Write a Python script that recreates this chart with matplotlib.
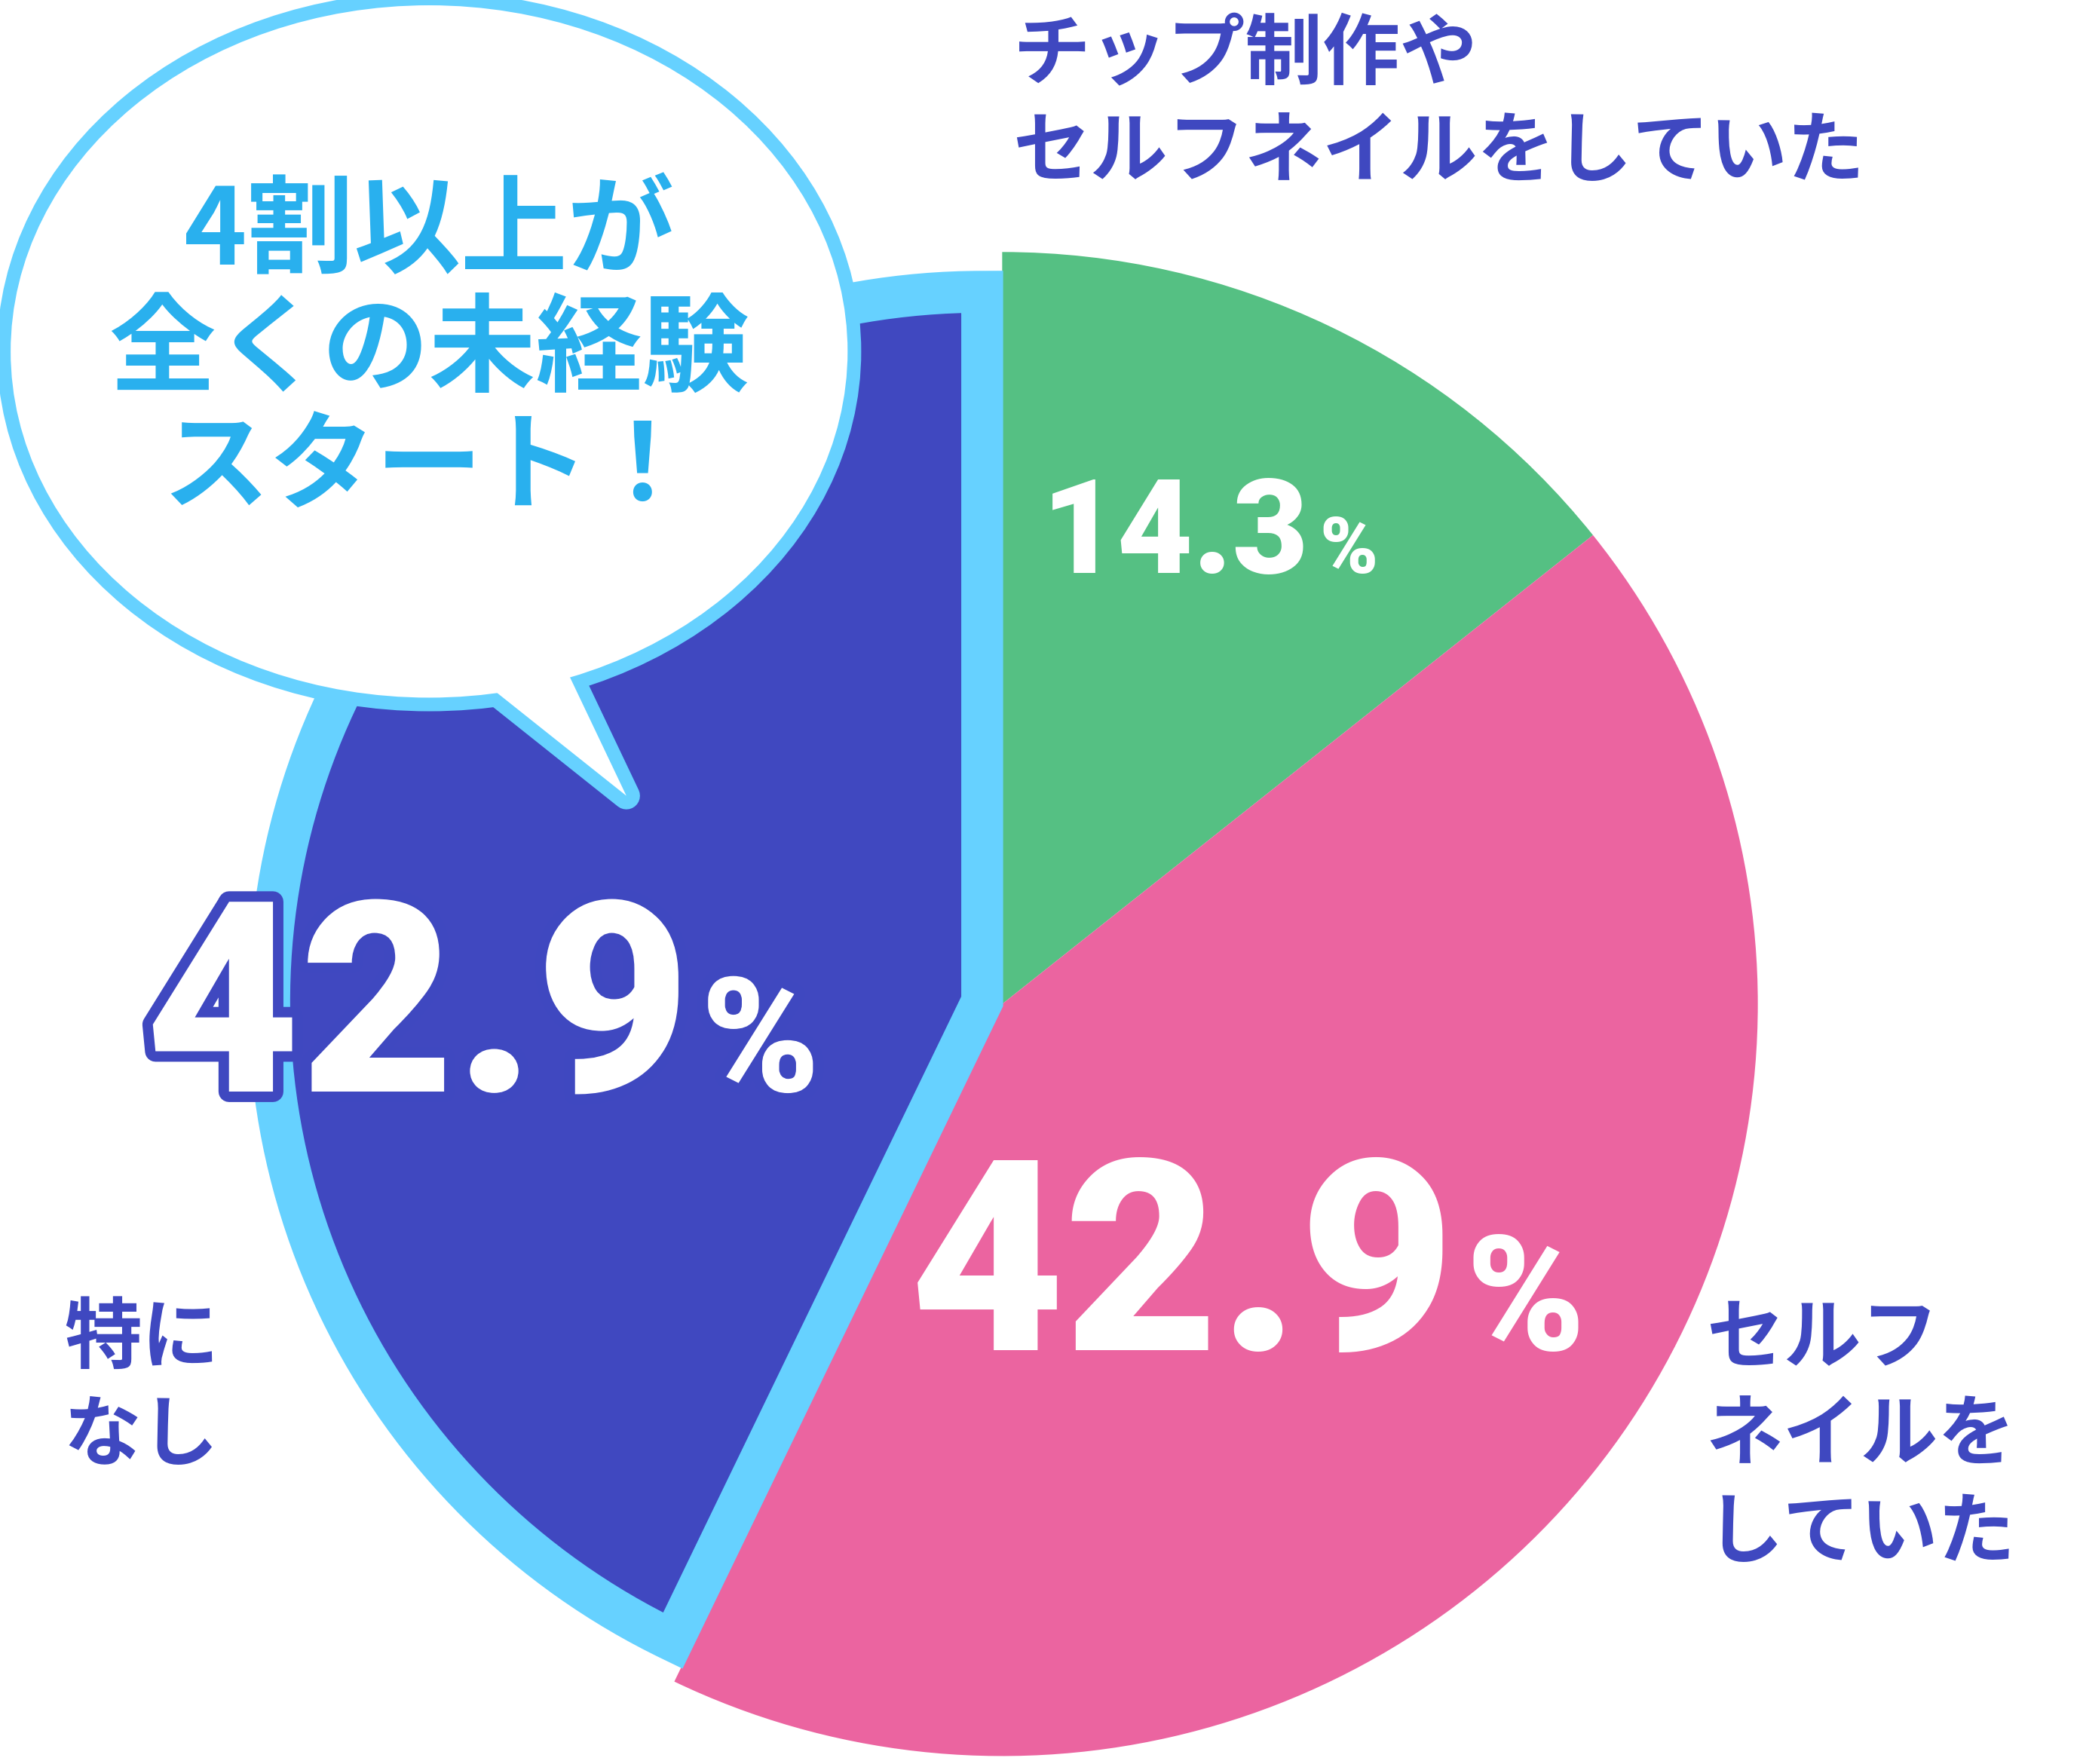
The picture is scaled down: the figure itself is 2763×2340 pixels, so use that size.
import matplotlib
matplotlib.use("Agg")
import matplotlib.pyplot as plt
from matplotlib.patches import Ellipse, Polygon
import matplotlib.patheffects as pe

categories = ["チップ制作や\nセルフネイルをしていた", "セルフ\nネイルを\nしていた", "特に\nなし"]
values = [14.3, 42.9, 42.9]
pct_labels = ["14.3", "42.9", "42.9"]
colors = ["#55C083", "#EB64A0", "#4048C0"]
LB = "#66D1FF"
DB = "#3F48C0"
JP = ["Noto Sans CJK JP", "DejaVu Sans"]

fig = plt.figure(figsize=(27.63, 23.40), dpi=100)
ax = fig.add_axes([0, 0, 1, 1])

H = 1330
w1, _ = ax.pie(values, colors=colors, startangle=90, counterclock=False,
               center=(752, H - 757), radius=567, frame=True)
w1[2].set_visible(False)
w2, _ = ax.pie(values, colors=colors, startangle=90, counterclock=False,
               center=(737, H - 755), radius=535, frame=True,
               wedgeprops=dict(edgecolor=LB, linewidth=40, joinstyle="miter"))
w2[0].set_visible(False); w2[1].set_visible(False)
ax.set_xlim(0, 1563); ax.set_ylim(0, 1330); ax.axis("off")
ax.set_aspect("auto")

tail = [(360, H - 512), (470, H - 600), (425, H - 505)]
ax.add_patch(Ellipse((322, H - 265), 628, 522, facecolor="none", edgecolor=LB, lw=26, zorder=5))
ax.add_patch(Polygon(tail, closed=True, facecolor=LB, edgecolor=LB, lw=26, joinstyle="round", zorder=5))
ax.add_patch(Ellipse((322, H - 265), 628, 522, facecolor="white", edgecolor="none", zorder=6))
ax.add_patch(Polygon(tail, closed=True, facecolor="white", edgecolor="none", zorder=6))
ax.text(322, H - 265, "4割以上が\n全くの未経験\nスタート！", ha="center", va="center",
        fontsize=102, fontweight="bold", color="#29B0EE", family=JP, linespacing=1.12, zorder=7)

def pct(x, y, num, size, outline=False):
    eff = [pe.withStroke(linewidth=20, foreground=DB)] if outline else []
    ax.text(x, y, num, ha="right", va="baseline", fontsize=size, fontweight="black",
            family=["Roboto", "DejaVu Sans"], color="white", zorder=8, path_effects=eff)
    ax.text(x + 8, y, "%", ha="left", va="baseline", fontsize=size * 0.6, fontweight="black",
            family=["Roboto", "DejaVu Sans"], color="white", zorder=8, path_effects=eff)

pct(982, H - 432, pct_labels[0], 125)
pct(1092, H - 1018, pct_labels[1], 255)
pct(518, H - 823, pct_labels[2], 255, outline=True)

ax.text(760, H - 12, categories[0], ha="left", va="top", fontsize=74, fontweight="bold",
        color=DB, family=JP, linespacing=1.3)
ax.text(1280, H - 980, categories[1], ha="left", va="top", fontsize=74, fontweight="bold",
        color=DB, family=JP, linespacing=1.3)
ax.text(48, H - 980, categories[2], ha="left", va="top", fontsize=74, fontweight="bold",
        color=DB, family=JP, linespacing=1.3)

fig.savefig("out.png", dpi=100)
